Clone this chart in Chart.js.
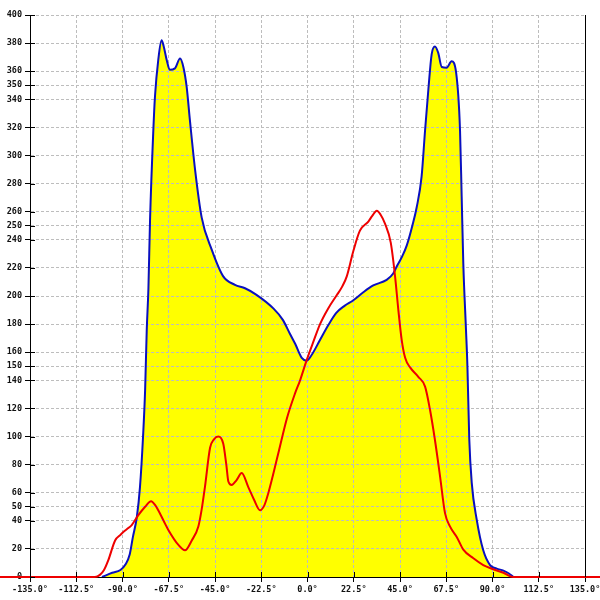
<!DOCTYPE html>
<html>
<head>
<meta charset="utf-8">
<script src="https://cdn.jsdelivr.net/npm/chart.js@4/dist/chart.umd.min.js"></script>
<style>html,body{margin:0;padding:0;background:#fff;}canvas{display:block;}</style>
</head>
<body>
<canvas id="c" width="600" height="600"></canvas>
<script>
const blueAngles = [-100,-95,-91,-88.5,-86.5,-85,-83,-81.5,-80,-79,-78.2,-77.4,-76.6,-75,-74.2,-72.6,-71,-70,-68.5,-67,-64.5,-62,-60.4,-58.8,-57.2,-54.7,-51.5,-46.6,-41,-35.3,-30.4,-25,-16.5,-12,-8.5,-6,-2.8,-0.4,2,6,10,14,18,22.3,27,32,38.5,41.7,43.4,46,48.3,51,53.1,55.5,57.2,58.8,60.4,62,63.6,65.3,67.7,70.1,72.3,74.2,75,75.8,77.1,77.8,78.7,79.9,82.3,85.5,88.8,92,95.3,98,100.2];
const blueValues = [0,3,5,9,16,28,43,64,100,133,176,205,254,318,342,368,382,378,368,361,362,369,363,349,325,290,256,233,214,208,205.5,201,191,183,173,166,156,154,158,168.5,179,188,193,197,202.5,207.5,211.5,216,221,228,236,250,263,285,318,347,372,377.5,373,363,362.5,367,359,318,271,223,176,150,98,67,41,19,8.5,6,4.5,2.5,0];

const redAngles = [-150,-103.4,-101,-99,-96.9,-93.6,-91,-89.6,-87,-85.5,-82.3,-79,-76.1,-74,-72.6,-70,-67.7,-62.8,-59.6,-56.3,-53.1,-51.5,-49.9,-47.4,-45.5,-43.4,-41,-39.5,-38.5,-36.9,-34.5,-32,-28.8,-26,-23.1,-21,-19.1,-14.2,-10,-6.1,-3.6,-0.4,3,6.1,10,14.2,17,19.1,22.3,25.5,29.6,31.5,33.7,35.5,37.7,40.5,42.6,44.2,45.8,47.5,50,53.9,57.2,59.6,62,64.5,66.9,69.3,72.6,75.8,80.7,85.5,90.4,95.3,100,143];
const redValues = [0,0,1.5,5,12,26,30,32,35,37,44,50,54,51,47.5,40,33.5,22.8,19,26,36,48,64,92,98,100,95,80,68,65.5,69,74,64,55,47.5,51,59.5,88,113,130.5,140,154.4,168,180,191,200.5,207,214,232,246.5,253,257,260.7,258,251.5,238,214,190,169,156,149,142.5,135.5,119,97.5,71.5,45.5,36,28.5,19.5,13.3,8.5,5.5,3,0,0];

const xTicks = [-135,-112.5,-90,-67.5,-45,-22.5,0,22.5,45,67.5,90,112.5,135];
const yTicks = [0,20,40,50,60,80,100,120,140,150,160,180,200,220,240,250,260,280,300,320,340,350,360,380,400];

const toPts = (xs, ys) => xs.map((x, i) => ({x: x, y: ys[i]}));

const tickFont = {family: 'DejaVu Sans Mono', size: 8.5, weight: 'bold'};

const innerTicks = {
  id: 'innerTicks',
  afterDraw(chart) {
    const ctx = chart.ctx, a = chart.chartArea;
    const xs = chart.scales.x, ys = chart.scales.y;
    ctx.save();
    ctx.strokeStyle = '#000';
    ctx.lineWidth = 1;
    ctx.setLineDash([]);
    ctx.beginPath();
    ys.ticks.forEach(t => {
      const y = Math.round(ys.getPixelForValue(t.value)) + 0.5;
      ctx.moveTo(a.left, y); ctx.lineTo(a.left + 5, y);
    });
    xs.ticks.forEach(t => {
      const x = Math.round(xs.getPixelForValue(t.value)) + 0.5;
      ctx.moveTo(x, a.bottom); ctx.lineTo(x, a.bottom - 5);
    });
    ctx.moveTo(Math.round(a.right) + 0.5, a.top);
    ctx.lineTo(Math.round(a.right) + 0.5, a.bottom);
    ctx.stroke();
    ctx.restore();
  }
};

new Chart(document.getElementById('c'), {
  type: 'line',
  data: {
    datasets: [
      {
        data: toPts(redAngles, redValues),
        borderColor: '#ee0000',
        borderWidth: 2,
        pointRadius: 0,
        fill: false,
        cubicInterpolationMode: 'monotone',
        clip: false,
        order: 0
      },
      {
        data: toPts(blueAngles, blueValues),
        borderColor: '#0a10c0',
        borderWidth: 2,
        backgroundColor: '#ffff00',
        pointRadius: 0,
        fill: 'origin',
        cubicInterpolationMode: 'monotone',
        order: 1
      }
    ]
  },
  options: {
    responsive: false,
    animation: false,
    devicePixelRatio: 1,
    layout: {padding: {top: 15, right: 15, left: 0, bottom: 0}},
    plugins: {
      legend: {display: false},
      tooltip: {enabled: false},
      filler: {drawTime: 'beforeDraw'}
    },
    scales: {
      x: {
        type: 'linear',
        min: -135, max: 135,
        afterBuildTicks: s => { s.ticks = xTicks.map(v => ({value: v})); },
        afterFit: s => { s.height = 23; s.paddingLeft = 0; s.paddingRight = 0; },
        ticks: {
          font: tickFont, color: '#111', padding: 3, maxRotation: 0, autoSkip: false,
          callback: v => v.toFixed(1) + '°'
        },
        grid: {
          color: '#bdbdbd', tickLength: 5,
          tickColor: '#000', tickBorderDash: [], tickWidth: 1
        },
        border: {display: true, color: '#000', width: 1, dash: [3, 2]}
      },
      y: {
        type: 'linear',
        min: 0, max: 400,
        afterBuildTicks: s => { s.ticks = yTicks.map(v => ({value: v})); },
        afterFit: s => { s.width = 30; s.paddingTop = 0; s.paddingBottom = 0; },
        ticks: {
          font: tickFont, color: '#111', padding: 3, autoSkip: false,
          callback: v => String(v)
        },
        grid: {
          color: '#bdbdbd', tickLength: 5,
          tickColor: '#000', tickBorderDash: [], tickWidth: 1
        },
        border: {display: true, color: '#000', width: 1, dash: [3, 2]}
      }
    }
  },
  plugins: [innerTicks]
});
</script>
</body>
</html>
